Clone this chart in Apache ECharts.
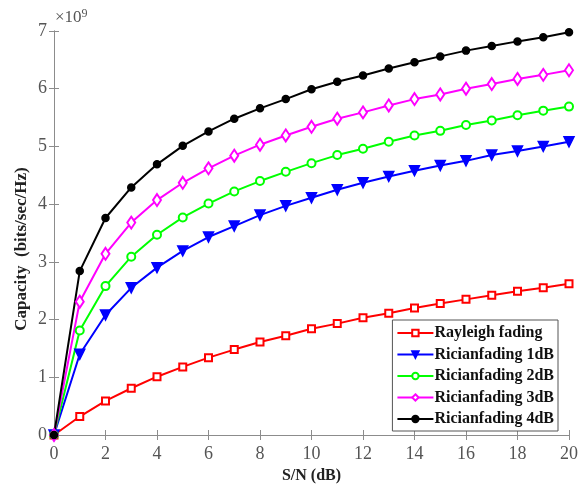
<!DOCTYPE html>
<html>
<head>
<meta charset="utf-8">
<script src="https://cdn.jsdelivr.net/npm/echarts@6/dist/echarts.min.js"></script>
<style>html,body{margin:0;padding:0;background:#fff}#c{width:586px;height:485px}</style>
</head>
<body>
<div id="c"></div>
<script>
const snr = [0,1,2,3,4,5,6,7,8,9,10,11,12,13,14,15,16,17,18,19,20];
const rayleigh = [0,0.32,0.59,0.81,1.01,1.18,1.34,1.48,1.61,1.72,1.84,1.93,2.03,2.11,2.20,2.28,2.35,2.42,2.49,2.55,2.62];
const rician1 = [0,1.40,2.08,2.55,2.90,3.19,3.43,3.62,3.81,3.97,4.11,4.25,4.37,4.48,4.58,4.67,4.75,4.85,4.92,5.00,5.08];
const rician2 = [0,1.81,2.58,3.09,3.47,3.77,4.01,4.22,4.40,4.56,4.71,4.85,4.96,5.08,5.19,5.27,5.37,5.45,5.54,5.62,5.69];
const rician3 = [0,2.31,3.14,3.68,4.07,4.37,4.62,4.84,5.03,5.19,5.34,5.48,5.59,5.71,5.82,5.90,6.00,6.08,6.17,6.24,6.32];
const rician4 = [0,2.84,3.76,4.29,4.69,5.01,5.26,5.48,5.66,5.82,5.99,6.12,6.23,6.35,6.46,6.56,6.66,6.74,6.82,6.89,6.98];
const names = ['Rayleigh fading','Ricianfading 1dB','Ricianfading 2dB','Ricianfading 3dB','Ricianfading 4dB'];
const xLabel = 'S/N (dB)';
const yLabel = 'Capacity  (bits/sec/Hz)';

const serif = '"Liberation Serif", "DejaVu Serif", serif';
const axisGray = '#8c8c8c';
const labelGray = '#555';
const pair = a => a.map((v,i)=>[snr[i], v]);

function mk(name, data, color, symbol, size, extra) {
  return Object.assign({
    name, type:'line', data: pair(data), symbol, symbolSize: size,
    lineStyle:{color, width:2}, itemStyle:{color, borderColor: color, borderWidth:1.5},
    xAxisIndex:0, yAxisIndex:0, animation:false, z:3
  }, extra||{});
}

const chart = echarts.init(document.getElementById('c'), null, {renderer:'canvas'});
chart.setOption({
  backgroundColor:'#fff',
  animation:false,
  grid:{left:54, right:17, top:31, bottom:50, containLabel:false, outerBoundsMode:'none'},
  xAxis:[{
    type:'value', min:0, max:20, interval:2,
    name:xLabel, nameLocation:'middle', nameGap:32,
    nameTextStyle:{fontFamily:serif, fontWeight:'bold', fontSize:16, color:'#222'},
    axisLine:{show:true, onZero:false, lineStyle:{color:axisGray, width:1}},
    axisTick:{show:true, inside:true, length:5, lineStyle:{color:axisGray}},
    axisLabel:{fontFamily:serif, fontSize:18, color:labelGray, margin:10},
    splitLine:{show:false}
  },{
    type:'value', min:0, max:20, interval:2, position:'top',
    axisLine:{show:true, lineStyle:{color:axisGray, width:1}},
    axisTick:{show:true, inside:true, length:5, lineStyle:{color:axisGray}},
    axisLabel:{show:false}, splitLine:{show:false}
  }],
  yAxis:[{
    type:'value', min:0, max:7, interval:1,
    axisLine:{show:true, onZero:false, lineStyle:{color:axisGray, width:1}},
    axisTick:{show:true, inside:true, length:5, lineStyle:{color:axisGray}},
    axisLabel:{fontFamily:serif, fontSize:18, color:labelGray, margin:7},
    splitLine:{show:false}
  },{
    type:'value', min:0, max:7, interval:1, position:'right',
    axisLine:{show:true, lineStyle:{color:axisGray, width:1}},
    axisTick:{show:true, inside:true, length:5, lineStyle:{color:axisGray}},
    axisLabel:{show:false}, splitLine:{show:false}
  }],
  legend:{
    orient:'vertical', right:28, bottom:54,
    backgroundColor:'#fff', borderColor:'#555', borderWidth:1,
    padding:[4,4,3,4], itemGap:3.5, itemWidth:36, itemHeight:8,
    textStyle:{fontFamily:serif, fontWeight:'bold', fontSize:16, lineHeight:18, color:'#111', padding:[0,0,0,-4]},
    data:names
  },
  graphic:[{
    type:'text', left:55, top:8,
    style:{text:'×10{s|9}', fontFamily:serif, fontSize:17, fill:labelGray,
      rich:{s:{fontFamily:serif, fontSize:12, fill:labelGray, verticalAlign:'top', padding:[0,0,8,0]}}}
  },{
    type:'text', x:22, y:249, rotation:Math.PI/2,
    style:{text:yLabel, fontFamily:serif, fontWeight:'bold', fontSize:17, fill:'#222',
      align:'center', verticalAlign:'middle'}
  }],
  series:[
    mk(names[0], rayleigh, '#ff0000', 'emptyRect', 7),
    mk(names[1], rician1, '#0000ff', 'triangle', 10, {symbolRotate:180}),
    mk(names[2], rician2, '#00ff00', 'emptyCircle', 8),
    mk(names[3], rician3, '#ff00ff', 'emptyDiamond', [8,12]),
    mk(names[4], rician4, '#000000', 'circle', 7)
  ]
});
</script>
</body>
</html>
